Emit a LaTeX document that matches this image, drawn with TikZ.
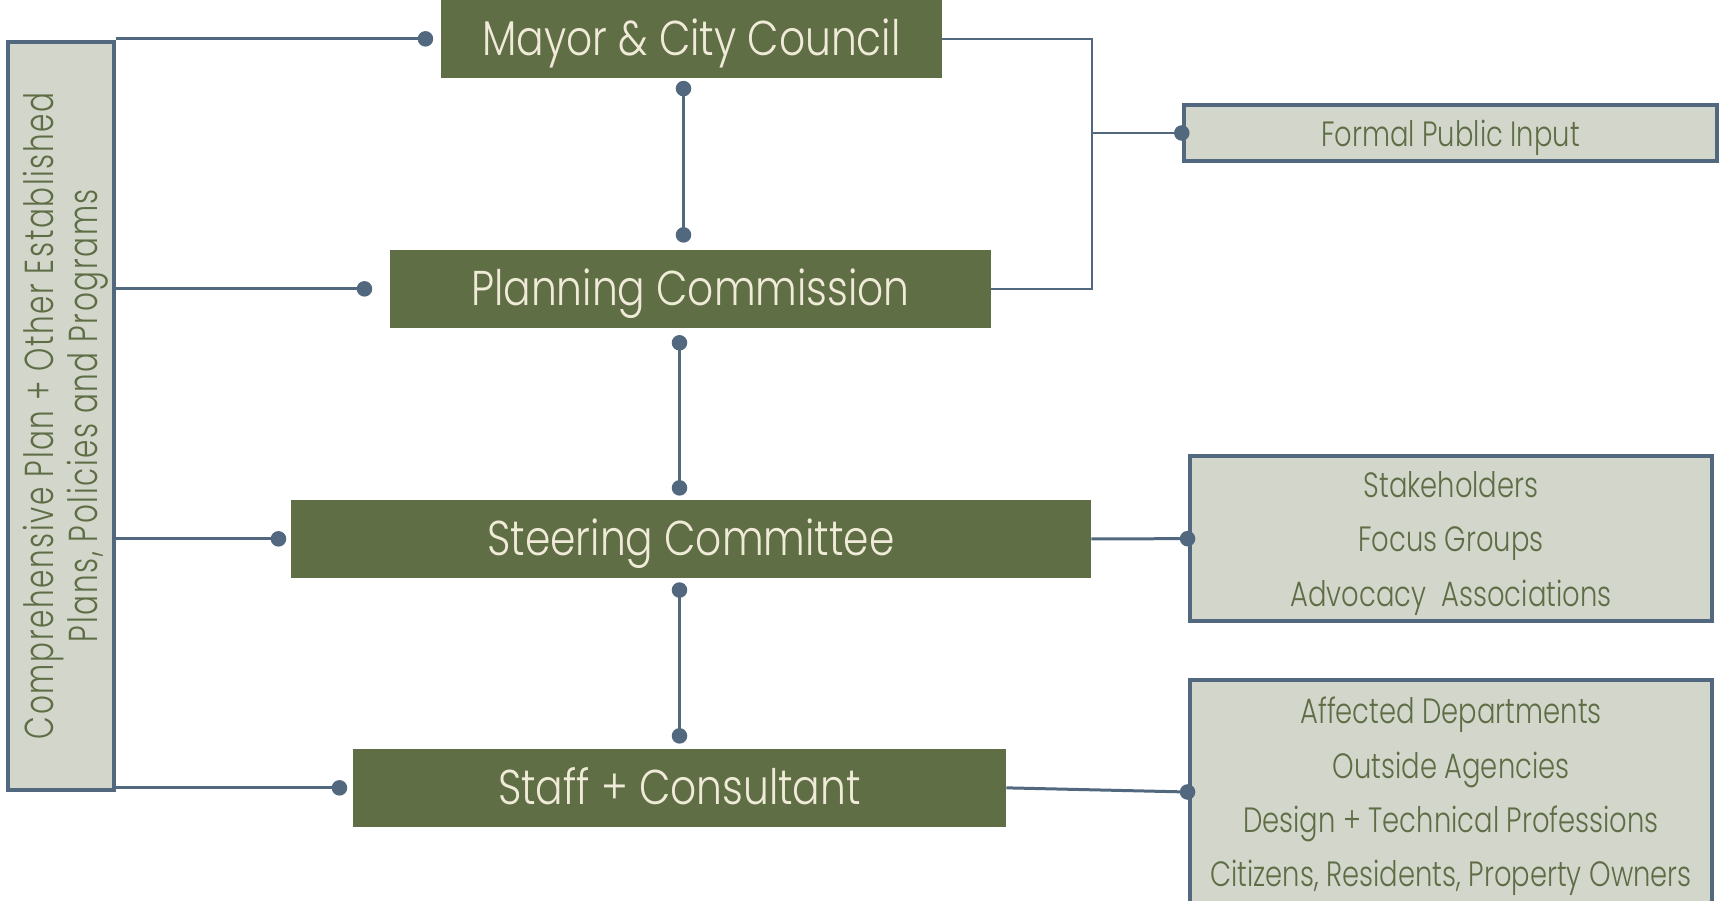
\documentclass[tikz,border=0pt]{standalone}
\usepackage{fontspec}
\usetikzlibrary{arrows.meta, positioning}

\newfontfamily\boxfont{Poppins Light}[FakeStretch=0.835]
\newfontfamily\panelfont{Poppins Light}[FakeStretch=0.78]
\newfontfamily\railfont{Poppins Light}[FakeStretch=0.73, LetterSpace=4]

\definecolor{bodygreen}{HTML}{5F6E44}
\definecolor{bodytext}{HTML}{F0EAD8}
\definecolor{panelfill}{HTML}{D3D7CB}
\definecolor{paneltext}{HTML}{5E6D45}
\definecolor{edge}{HTML}{52687F}

\tikzset{
  body/.style={fill=bodygreen, text=bodytext, minimum height=1.554cm, inner sep=0pt,
    text height=0.68cm, text depth=0pt, font=\boxfont\fontsize{27.8}{32}\selectfont},
  panel/.style={draw=edge, line width=0.08cm, fill=panelfill, text=paneltext, inner sep=0pt,
    align=center, text depth=0pt, font=\panelfont\fontsize{20}{31}\selectfont},
  link/.style={draw=edge, line width=0.06cm},
  bracket/.style={draw=edge, line width=0.045cm}
}

\begin{document}
\begin{tikzpicture}[x=0.02cm, y=-0.02cm, >={Circle[length=0.31cm]}]
    \useasboundingbox (0,0) rectangle (1721,901);

    % the four bodies down the middle
    \node[body, minimum width=10.02cm] (mayor) at (691.5,38.85) {Mayor \& City Council};
    \node[body, minimum width=12.02cm] (planning) at (690.5,288.85) {Planning Commission};
    \node[body, minimum width=16cm] (steering) at (691,538.85) {Steering Committee};
    \node[body, minimum width=13.06cm] (staff) at (679.5,787.85) {Staff + Consultant};

    % side panels
    \node[panel, rotate=90, minimum width=14.96cm, minimum height=2.12cm,
      font=\railfont\fontsize{23}{25}\selectfont] (plans) at (60.6,415.6)
      {Comprehensive Plan + Other Established\\Plans, Policies and Programs};
    \node[panel, minimum width=10.66cm, minimum height=1.11cm] (input) at (1450.5,133) {Formal Public Input};
    \node[panel, minimum width=10.45cm, minimum height=3.31cm] (groups) at (1451,538.7)
      {Stakeholders\\Focus Groups\\Advocacy\ \ Associations};
    \node[panel, minimum width=10.45cm, minimum height=4.47cm] (agencies) at (1451,792)
      {Affected Departments\\Outside Agencies\\Design + Technical Professions\\Citizens, Residents, Property Owners};

    \coordinate (spine) at (683.5,0);
    \coordinate (fork) at (1091.7,133);

    % plans rail to each body (plans is turned, so its south side faces right)
    \draw[link, ->, shorten >=0.15cm] (plans.south |- mayor.west) -- (mayor.west);
    \draw[link, ->, shorten >=0.35cm] (plans.south |- planning.west) -- (planning.west);
    \draw[link, ->, shorten >=0.09cm] (plans.south |- steering.west) -- (steering.west);
    \draw[link, ->, shorten >=0.11cm] (plans.south |- staff.west) -- (staff.west);

    % chain of bodies
    \draw[link, <->, shorten <=0.056cm, shorten >=0.14cm] (mayor.south -| spine) -- (planning.north -| spine);
    \draw[link, <->, shorten <=0.14cm, shorten >=0.08cm] (planning.south -| staff.north) -- (steering.north -| staff.north);
    \draw[link, <->, shorten <=0.085cm, shorten >=0.1cm] (steering.south -| staff.north) -- (staff.north);

    % public input bracket
    \draw[bracket] (mayor.east) -| (fork) |- (planning.east);
    \draw[bracket, ->, shorten >=-0.15cm] (fork) -- (input.west);

    % outreach
    \draw[link, ->, shorten >=-0.15cm] (steering.east) -- (groups.west);
    \draw[link, ->, shorten >=-0.15cm] (staff.east) -- (agencies.west);
\end{tikzpicture}
\end{document}
